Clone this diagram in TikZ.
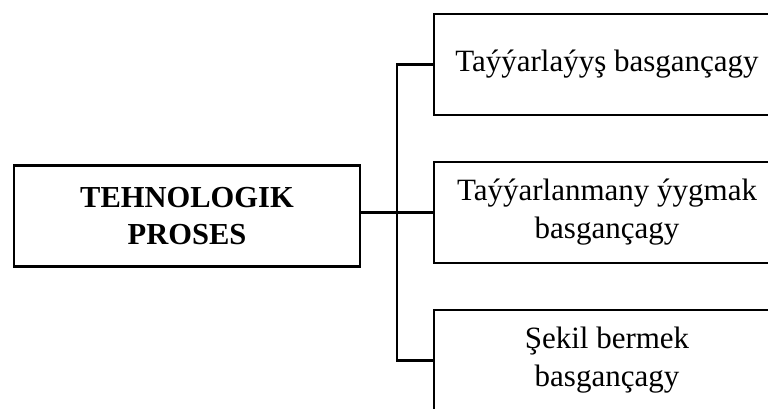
\documentclass[tikz,border=0pt]{standalone}
\usepackage{fontspec}
\setmainfont{Liberation Serif}
\begin{document}
\begin{tikzpicture}[x=1pt,y=-1pt,
  box/.style={draw,line width=2.5pt,rectangle,minimum width=346pt,minimum height=101pt,
    inner sep=0pt,align=center,font=\fontsize{31}{38}\selectfont},
  conn/.style={line width=2.5pt}]
\useasboundingbox (0,0) rectangle (768,408);
\clip (0,0) rectangle (768,408);
\fill[white] (0,0) rectangle (768,408);
\node[box,font=\fontsize{30.5}{37}\selectfont\bfseries] (main) at (187,216) {TEHNOLOGIK\\PROSES};
\node[box] (b1) at (607,64.5) {Taýýarlaýyş basgançagy};
\node[box] (b2) at (607,212.5) {Taýýarlanmany ýygmak\\basgançagy};
\node[box] (b3) at (607,360.5) {Şekil bermek\\basgançagy};
\coordinate (sp) at (397,0);
\draw[conn] (main.east |- b2.west) -- (b2.west);
\draw[conn] (b1.west) -- (b1.west -| sp) -- (b3.west -| sp) -- (b3.west);
\end{tikzpicture}
\end{document}
